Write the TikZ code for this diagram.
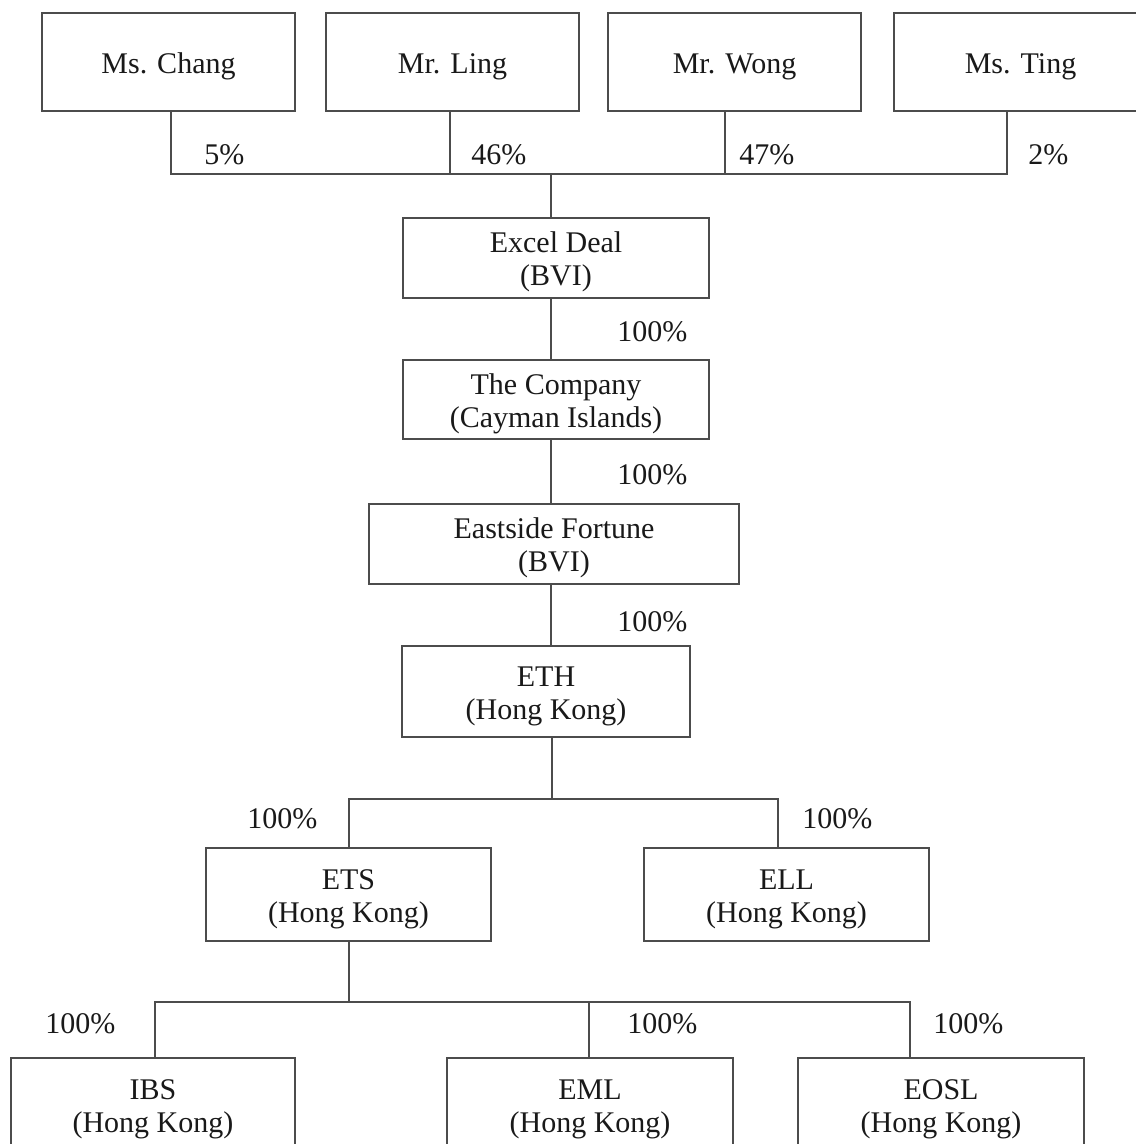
\documentclass[tikz,border=0pt]{standalone}
\usepackage{fontspec}
\setmainfont{Liberation Serif}

% lifts the first text line a little lower in its box
\newcommand{\liftline}{\rule{0pt}{14.6pt}}

\begin{document}
\begin{tikzpicture}[
    x=0.5pt, y=-0.5pt,
    entity/.style={rectangle, draw=black!70, line width=0.75pt, text=black!90, align=center, inner sep=0pt, font=\fontsize{15}{16.5}\selectfont},
    share/.style={anchor=west, inner sep=0pt, text=black!90, font=\fontsize{15}{16.5}\selectfont},
    link/.style={draw=black!70, line width=0.75pt}
]

% Page frame
\useasboundingbox (0,0) rectangle (1135,1144);

% Shareholders
\node[entity, minimum width=126.5pt, minimum height=49pt] (chang) at (168.5,62) {\liftline Ms. Chang};
\node[entity, minimum width=126.5pt, minimum height=49pt] (ling) at (452.5,62) {\liftline Mr. Ling};
\node[entity, minimum width=126.5pt, minimum height=49pt] (wong) at (734.5,62) {\liftline Mr. Wong};
\node[entity, minimum width=126.5pt, minimum height=49pt] (ting) at (1020.5,62) {\liftline Ms. Ting};

% Holding chain
\node[entity, minimum width=153pt, minimum height=40pt] (excel) at (556,258) {\liftline Excel Deal\\(BVI)};
\node[entity, minimum width=153pt, minimum height=39.5pt] (company) at (556,399.5) {\liftline The Company\\(Cayman Islands)};
\node[entity, minimum width=185pt, minimum height=40pt] (eastside) at (554,544) {\liftline Eastside Fortune\\(BVI)};
\node[entity, minimum width=144pt, minimum height=45.5pt] (eth) at (546,691.5) {\liftline ETH\\(Hong Kong)};

% Second level
\node[entity, minimum width=142.5pt, minimum height=46.5pt] (ets) at (348.5,894.5) {\liftline ETS\\(Hong Kong)};
\node[entity, minimum width=142.5pt, minimum height=46.5pt] (ell) at (786.5,894.5) {\liftline ELL\\(Hong Kong)};

% Third level (cut at the page foot)
\node[entity, minimum width=142pt, minimum height=46.5pt] (ibs) at (153,1104.5) {\liftline IBS\\(Hong Kong)};
\node[entity, minimum width=143pt, minimum height=46.5pt] (eml) at (590,1104.5) {\liftline EML\\(Hong Kong)};
\node[entity, minimum width=143pt, minimum height=46.5pt] (eosl) at (941,1104.5) {\liftline EOSL\\(Hong Kong)};

% Bus points
\coordinate (tapChang) at (171,174);
\coordinate (tapLing) at (450,174);
\coordinate (tapWong) at (725,174);
\coordinate (tapTing) at (1007,174);
\coordinate (spine) at (551,174);
\coordinate (ethBus) at (552,799);
\coordinate (tapEts) at (349,799);
\coordinate (tapEll) at (778,799);
\coordinate (etsBus) at (349,1002);
\coordinate (tapIbs) at (155,1002);
\coordinate (tapEml) at (589,1002);
\coordinate (tapEosl) at (910,1002);

% Connections
\draw[link] (chang.south -| tapChang) -- (tapChang) -- (tapTing) -- (ting.south -| tapTing);
\draw[link] (ling.south -| tapLing) -- (tapLing);
\draw[link] (wong.south -| tapWong) -- (tapWong);
\draw[link] (spine) -- (excel.north -| spine);
\draw[link] (excel.south -| spine) -- (company.north -| spine);
\draw[link] (company.south -| spine) -- (eastside.north -| spine);
\draw[link] (eastside.south -| spine) -- (eth.north -| spine);
\draw[link] (eth.south -| ethBus) -- (ethBus);
\draw[link] (ets.north -| tapEts) -- (tapEts) -- (tapEll) -- (ell.north -| tapEll);
\draw[link] (ets.south -| etsBus) -- (etsBus);
\draw[link] (ibs.north -| tapIbs) -- (tapIbs) -- (tapEosl) -- (eosl.north -| tapEosl);
\draw[link] (tapEml) -- (eml.north -| tapEml);

% Shareholdings
\node[share] (pctChang) at (204,155) {5\%};
\node[share] (pctLing) at (471,155) {46\%};
\node[share] (pctWong) at (739,155) {47\%};
\node[share] (pctTing) at (1028,155) {2\%};
\node[share] (pctCompany) at (617,332) {100\%};
\node[share] (pctEastside) at (617,475) {100\%};
\node[share] (pctEth) at (617,622) {100\%};
\node[share] (pctEts) at (247,819) {100\%};
\node[share] (pctEll) at (802,819) {100\%};
\node[share] (pctIbs) at (45,1024) {100\%};
\node[share] (pctEml) at (627,1024) {100\%};
\node[share] (pctEosl) at (933,1024) {100\%};

\end{tikzpicture}
\end{document}
